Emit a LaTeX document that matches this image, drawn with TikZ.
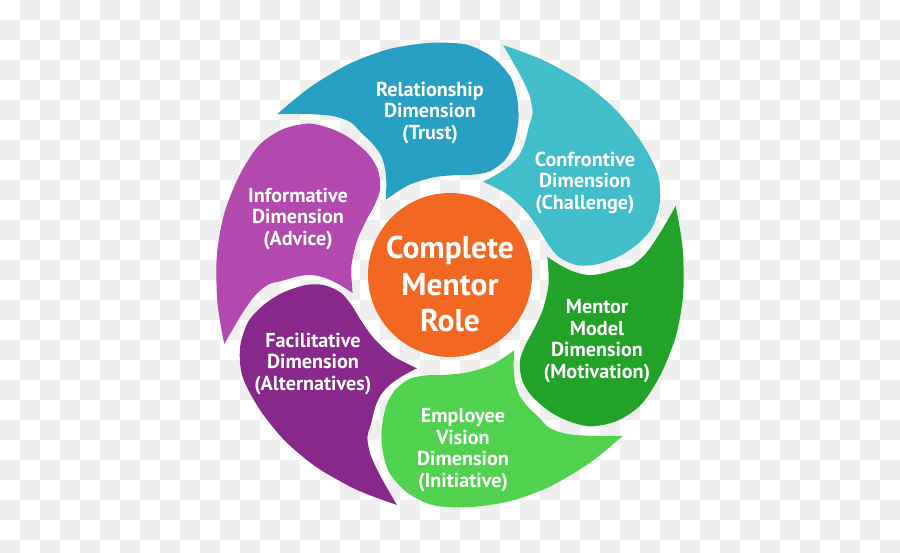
\documentclass[tikz,border=0pt]{standalone}
\usepackage{fontspec}
\setmainfont{PT Sans}
\definecolor{trustblue}{RGB}{39,160,196}
\definecolor{challengecyan}{RGB}{66,190,203}
\definecolor{motivationgreen}{RGB}{34,162,41}
\definecolor{initiativegreen}{RGB}{80,210,78}
\definecolor{alternativespurple}{RGB}{135,40,138}
\definecolor{advicemagenta}{RGB}{179,73,175}
\definecolor{mentororange}{RGB}{242,103,34}
\definecolor{checkgray}{RGB}{239,239,239}

\begin{document}
\begin{tikzpicture}[x=1pt, y=1pt,
	dimtext/.style={text=white, align=center, font=\fontsize{20.2}{21.7}\selectfont\bfseries},
	roletext/.style={text=white, align=center, font=\fontsize{31.5}{36.4}\selectfont\bfseries}]

	\useasboundingbox (-450,-277) rectangle (450,275);
	\clip (-450,-277) rectangle (450,275);

	% checkered background
	\foreach \i in {0,...,44}
		\foreach \j in {0,...,27}{
			\pgfmathtruncatemacro{\cellodd}{mod(\i+\j,2)}
			\ifnum\cellodd=1 \fill[checkgray] (-450+20*\i,275-20*\j) rectangle ++(20,-20); \fi
		};

	% one petal, turned by 60 degrees for each dimension
	\foreach \k/\petalcolor in {0/trustblue, 1/challengecyan, 2/motivationgreen, 3/initiativegreen, 4/alternativespurple, 5/advicemagenta}{
		\fill[\petalcolor, rotate=-60*\k] plot[smooth] coordinates{(130.5:99)(115:99)(100:99)(87:100)(77:103)(69:111)(64.5:127)(64:145)(66:168)(69:188)(73:207)(79:222)(86:231)(95:233)(105:234)(115:234)(125:234)(131:234.5)(137:236)}
			-- plot[smooth] coordinates{(137:236)(133.5:222)(129.8:209)(126:196)(123:182)(122:168)(120.5:152)(120:138)(121.5:124)(125:111)(130.5:99)} -- cycle;
	}

	\fill[mentororange] (0,0) circle (82);

	\node[roletext] (mentorrole) at (0,-9) {Complete\\Mentor\\Role};

	\node[dimtext] (relationship) at (-20,162) {Relationship\\Dimension\\(Trust)};
	\node[dimtext] (confrontive) at (135,92) {Confrontive\\Dimension\\(Challenge)};
	\node[dimtext] (mentormodel) at (147,-66) {Mentor\\Model\\Dimension\\(Motivation)};
	\node[dimtext] (employee) at (13,-175) {Employee\\Vision\\Dimension\\(Initiative)};
	\node[dimtext] (facilitative) at (-137,-89) {Facilitative\\Dimension\\(Alternatives)};
	\node[dimtext] (informative) at (-152,56) {Informative\\Dimension\\(Advice)};

\end{tikzpicture}
\end{document}
